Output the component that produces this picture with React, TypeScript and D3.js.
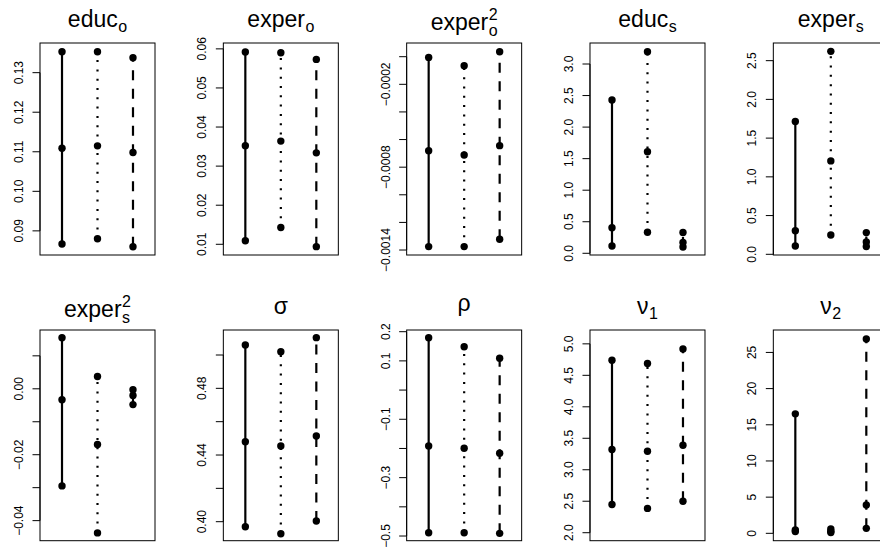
import React from "react";
import * as d3 from "d3";

// ---- data ----
const titleBase = ["educ", "exper", "exper", "educ", "exper", "exper", "σ", "ρ", "ν", "ν"];
const titleSub = ["o", "o", "o", "s", "s", "s", "", "", "1", "2"];
const titleSup = ["", "", "2", "", "", "2", "", "", "", ""];

// [low, mid, high] per panel
const solidVals = [
  [0.0867, 0.1109, 0.1353],
  [0.0109, 0.0352, 0.0592],
  [-0.001375, -0.000681, -0.000005],
  [0.116, 0.406, 2.43],
  [0.107, 0.305, 1.715],
  [-0.02946, -0.00332, 0.01547],
  [0.397, 0.448, 0.506],
  [-0.4886, -0.1916, 0.1794],
  [2.449, 3.322, 4.739],
  [0.25, 0.45, 16.51],
];
const dottedVals = [
  [0.088, 0.1115, 0.1353],
  [0.0143, 0.0364, 0.059],
  [-0.001375, -0.000712, -0.000065],
  [0.333, 1.61, 3.195],
  [0.25, 1.206, 2.62],
  [-0.04372, -0.01688, 0.00371],
  [0.3928, 0.4454, 0.502],
  [-0.4886, -0.1995, 0.1486],
  [2.386, 3.295, 4.687],
  [0.1, 0.3, 0.6],
];
const dashedVals = [
  [0.086, 0.1098, 0.1338],
  [0.0094, 0.0334, 0.0573],
  [-0.001322, -0.000644, 0.000036],
  [0.1, 0.17, 0.33],
  [0.1, 0.16, 0.28],
  [-0.0048, -0.002, -0.0003],
  [0.4004, 0.4514, 0.5104],
  [-0.4909, -0.2166, 0.1089],
  [2.5, 3.39, 4.92],
  [0.69, 3.92, 26.85],
];

const yLims = [
  [0.0839, 0.1375],
  [0.00726, 0.0615],
  [-0.001436, 0.0000992],
  [-0.027, 3.333],
  [-0.009, 2.728],
  [-0.04609, 0.01784],
  [0.3886, 0.515],
  [-0.516, 0.2058],
  [1.873, 5.22],
  [-1.02, 28.1],
];

const tickVals = [
  [0.09, 0.1, 0.11, 0.12, 0.13],
  [0.01, 0.02, 0.03, 0.04, 0.05, 0.06],
  [0, -0.0002, -0.0004, -0.0006, -0.0008, -0.001, -0.0012, -0.0014],
  [0, 0.5, 1, 1.5, 2, 2.5, 3],
  [0, 0.5, 1, 1.5, 2, 2.5],
  [0.01, 0, -0.01, -0.02, -0.03, -0.04],
  [0.4, 0.42, 0.44, 0.46, 0.48, 0.5],
  [0.2, 0.1, 0, -0.1, -0.2, -0.3, -0.4, -0.5],
  [2, 2.5, 3, 3.5, 4, 4.5, 5],
  [0, 5, 10, 15, 20, 25],
];
const tickLabels = [
  ["0.09", "0.10", "0.11", "0.12", "0.13"],
  ["0.01", "0.02", "0.03", "0.04", "0.05", "0.06"],
  ["", "−0.0002", "", "", "−0.0008", "", "", "−0.0014"],
  ["0.0", "0.5", "1.0", "1.5", "2.0", "2.5", "3.0"],
  ["0.0", "0.5", "1.0", "1.5", "2.0", "2.5"],
  ["", "0.00", "", "−0.02", "", "−0.04"],
  ["0.40", "", "0.44", "", "0.48", ""],
  ["0.2", "0.1", "", "−0.1", "", "−0.3", "", "−0.5"],
  ["2.0", "2.5", "3.0", "3.5", "4.0", "4.5", "5.0"],
  ["0", "5", "10", "15", "20", "25"],
];

const seriesX = [1, 2, 3];
const seriesDash = ["", "2,7.3", "10,8.5"];

// ---- layout ----
const W = 880;
const H = 551;
const boxLeft0 = 40;
const colStep = 183.33;
const boxW = 115;
const rowTop = [43, 330];
const rowH = [212, 210.7];
const FONT = "'Liberation Sans', Arial, Helvetica, sans-serif";
const mainSize = 23;
const scriptSize = 16;

let ctx: CanvasRenderingContext2D | null = null;
function textW(s: string, size: number): number {
  if (!ctx && typeof document !== "undefined") {
    ctx = document.createElement("canvas").getContext("2d");
  }
  if (ctx) {
    ctx.font = `${size}px 'Liberation Sans', Arial, sans-serif`;
    return ctx.measureText(s).width;
  }
  return s.length * size * 0.55;
}

function Title({ i, cx, y0 }: { i: number; cx: number; y0: number }) {
  const base = titleBase[i];
  const sub = titleSub[i];
  const sup = titleSup[i];
  const hasSup = sup !== "";
  const isRho = base === "ρ";
  const baseY = y0 - (hasSup ? 13 : isRho ? 19 : 16);
  const bw = textW(base, mainSize);
  const sw = Math.max(textW(sub, scriptSize), textW(sup, scriptSize));
  const total = bw + (sub || sup ? sw + 0.5 : 0);
  const x0 = cx - total / 2;
  const common = { fontFamily: FONT, fill: "#000" };
  return (
    <g>
      <text x={x0} y={baseY} fontSize={mainSize} {...common}>
        {base}
      </text>
      {sup && (
        <text x={x0 + bw + 0.5} y={baseY - 10} fontSize={scriptSize} {...common}>
          {sup}
        </text>
      )}
      {sub && (
        <text x={x0 + bw + 0.5} y={baseY + (hasSup ? 6 : 5)} fontSize={scriptSize} {...common}>
          {sub}
        </text>
      )}
    </g>
  );
}

function Panel({ i }: { i: number }) {
  const row = Math.floor(i / 5);
  const col = i % 5;
  const x0 = boxLeft0 + col * colStep;
  const y0 = rowTop[row];
  const h = rowH[row];
  const xs = d3.scaleLinear().domain([0.38, 3.62]).range([x0, x0 + boxW]);
  const ys = d3.scaleLinear().domain(yLims[i]).range([y0 + h, y0]);
  const groups = [solidVals[i], dottedVals[i], dashedVals[i]];
  const line = d3
    .line<[number, number]>()
    .x((d) => xs(d[0]))
    .y((d) => ys(d[1]));
  const cx = x0 + boxW / 2;
  return (
    <g>
      <Title i={i} cx={cx} y0={y0} />
      {groups.map((vals, k) => {
        const lo = d3.min(vals) as number;
        const hi = d3.max(vals) as number;
        return (
          <g key={k}>
            <path
              d={line([
                [seriesX[k], lo],
                [seriesX[k], hi],
              ]) as string}
              stroke="#000"
              strokeWidth={2.2}
              fill="none"
              strokeDasharray={seriesDash[k] || undefined}
            />
            {vals.map((v, j) => (
              <circle key={j} cx={xs(seriesX[k])} cy={ys(v)} r={3.7} fill="#000" />
            ))}
          </g>
        );
      })}
      <rect x={x0} y={y0} width={boxW} height={h} fill="none" stroke="#000" strokeWidth={1} />
      <line
        x1={x0}
        x2={x0}
        y1={ys(d3.min(tickVals[i]) as number)}
        y2={ys(d3.max(tickVals[i]) as number)}
        stroke="#000"
        strokeWidth={1}
      />
      {tickVals[i].map((t, j) => (
        <g key={j}>
          <line x1={x0 - 7.5} x2={x0} y1={ys(t)} y2={ys(t)} stroke="#000" strokeWidth={1} />
          {tickLabels[i][j] !== "" && (
            <text
              transform={`translate(${x0 - 17},${ys(t)}) rotate(-90)`}
              textAnchor="middle"
              fontFamily={FONT}
              fontSize={12}
              fill="#000"
            >
              {tickLabels[i][j]}
            </text>
          )}
        </g>
      ))}
    </g>
  );
}

export default function App() {
  return (
    <svg
      width={W}
      height={H}
      viewBox={`0 0 ${W} ${H}`}
      style={{ position: "absolute", left: 0, top: 0, background: "#fff" }}
    >
      <rect x={0} y={0} width={W} height={H} fill="#fff" />
      {titleBase.map((_, i) => (
        <Panel key={i} i={i} />
      ))}
    </svg>
  );
}
